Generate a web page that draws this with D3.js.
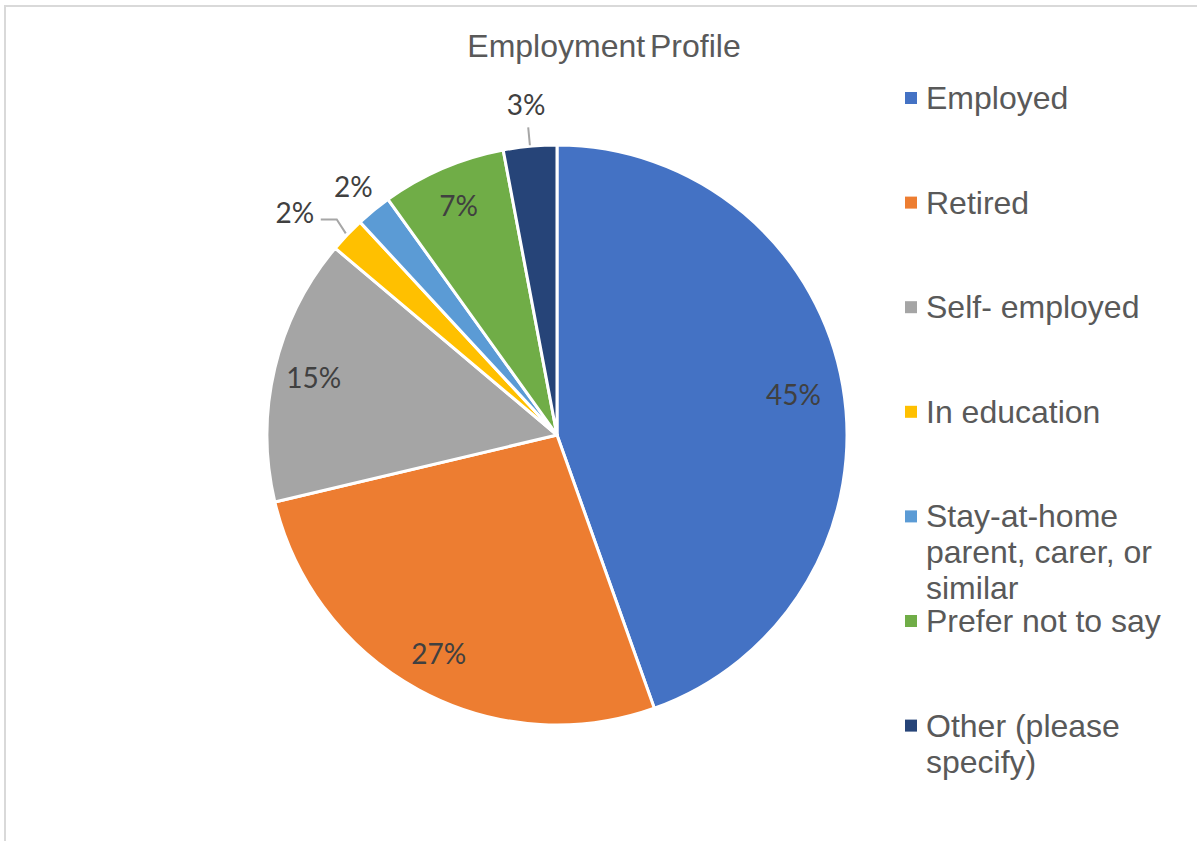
<!DOCTYPE html>
<html>
<head>
<meta charset="utf-8">
<script src="https://cdn.jsdelivr.net/npm/d3@7"></script>
<style>
  html, body { margin: 0; padding: 0; background: #ffffff; }
  svg { display: block; }
</style>
</head>
<body>
<svg id="chart" width="1197" height="841"></svg>
<script>
// Employment profile survey shares (percent)
const categories = [
  "Employed",
  "Retired",
  "Self- employed",
  "In education",
  "Stay-at-home parent, carer, or similar",
  "Prefer not to say",
  "Other (please specify)"
];
const values = [45, 27, 15, 2, 2, 7, 3];
const legendLines = [
  ["Employed"],
  ["Retired"],
  ["Self- employed"],
  ["In education"],
  ["Stay-at-home", "parent, carer, or", "similar"],
  ["Prefer not to say"],
  ["Other (please", "specify)"]
];
const colors = ["#4472C4", "#ED7D31", "#A5A5A5", "#FFC000", "#5B9BD5", "#70AD47", "#264478"];
const title = "Employment Profile";

const svg = d3.select("#chart");
const W = 1197, H = 841;

// chart area frame
svg.append("path")
  .attr("d", `M5,${H} L5,6 L${W},6`)
  .attr("fill", "none")
  .attr("stroke", "#d9d9d9")
  .attr("stroke-width", 2);

// title
svg.append("text")
  .attr("x", 604)
  .attr("y", 57)
  .attr("text-anchor", "middle")
  .attr("font-family", "'Liberation Sans', Arial, sans-serif")
  .attr("font-size", 32)
  .attr("word-spacing", -4)
  .attr("fill", "#595959")
  .text(title);

const cx = 557, cy = 435, R = 290;
const color = d3.scaleOrdinal().domain(categories).range(colors);

const pie = d3.pie().sort(null).value(d => d.value);
const data = pie(categories.map((c, i) => ({ name: c, value: values[i] })));
const arc = d3.arc().innerRadius(0).outerRadius(R);

const g = svg.append("g").attr("transform", `translate(${cx},${cy})`);

g.selectAll("path.slice")
  .data(data)
  .join("path")
  .attr("class", "slice")
  .attr("d", arc)
  .attr("fill", d => color(d.data.name))
  .attr("stroke", "#ffffff")
  .attr("stroke-width", 3)
  .attr("stroke-linejoin", "round");

// polar helper: angle measured clockwise from 12 o'clock
const polar = (a, r) => [r * Math.sin(a), -r * Math.cos(a)];
const mid = d => (d.startAngle + d.endAngle) / 2;

const labelFont = "Lato, 'Open Sans', sans-serif";
const labelFill = "#404040";

// label placement: inside for large slices, outside for the small ones
const placement = [
  { r: 240 }, { r: 248 }, { r: 250 },
  { leader: "elbow" },
  { r: 322 },
  { r: 250 },
  { r: 332, leader: "radial" }
];

data.forEach((d, i) => {
  const p = placement[i];
  const a = mid(d);
  const label = `${d.data.value}%`;
  let lx, ly;
  if (p.leader === "elbow") {
    const [ex, ey] = polar(a, R + 2);
    const bx = ex - 9, by = ey - 14;
    const tx = bx - 16;
    g.append("polyline")
      .attr("points", `${ex},${ey} ${bx},${by} ${tx},${by}`)
      .attr("fill", "none")
      .attr("stroke", "#a6a6a6")
      .attr("stroke-width", 2);
    lx = tx - 26; ly = by - 7;
  } else {
    [lx, ly] = polar(a, p.r);
    if (p.leader === "radial") {
      const [x1, y1] = polar(a, R + 1);
      const [x2, y2] = polar(a, R + 19);
      g.append("line")
        .attr("x1", x1).attr("y1", y1)
        .attr("x2", x2).attr("y2", y2)
        .attr("stroke", "#a6a6a6")
        .attr("stroke-width", 2);
    }
  }
  g.append("text")
    .attr("x", lx)
    .attr("y", ly)
    .attr("text-anchor", "middle")
    .attr("dominant-baseline", "central")
    .attr("font-family", labelFont)
    .attr("font-size", 28)
    .attr("fill", labelFill)
    .text(label);
});

// legend
const legendX = 905, legendY0 = 98, rowStep = 104.6, lineH = 36;
const legend = svg.append("g");
categories.forEach((c, i) => {
  const y = legendY0 + i * rowStep;
  legend.append("rect")
    .attr("x", legendX)
    .attr("y", y - 6)
    .attr("width", 12)
    .attr("height", 12)
    .attr("fill", color(c));
  legendLines[i].forEach((line, j) => {
    legend.append("text")
      .attr("x", legendX + 21)
      .attr("y", y + j * lineH)
      .attr("dominant-baseline", "central")
      .attr("font-family", "'Liberation Sans', Arial, sans-serif")
      .attr("font-size", 32)
      .attr("fill", "#595959")
      .text(line);
  });
});
</script>
</body>
</html>
